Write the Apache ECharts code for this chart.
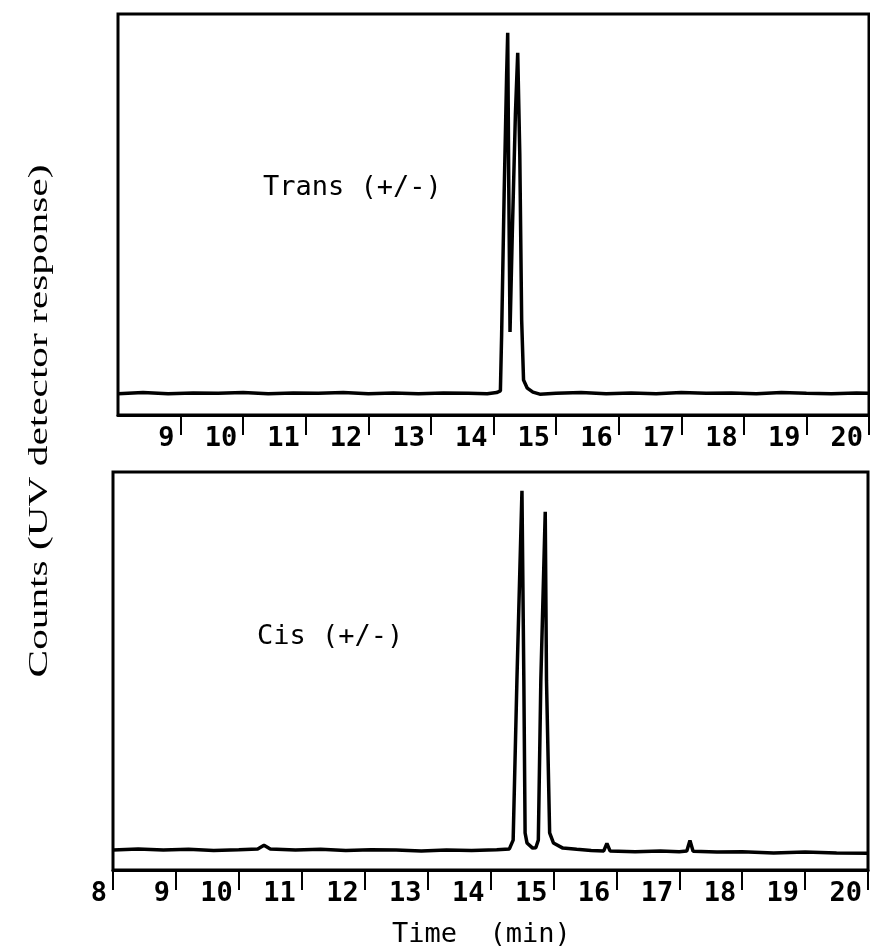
<!DOCTYPE html>
<html><head><meta charset="utf-8">
<script src="https://cdn.jsdelivr.net/npm/echarts@6/dist/echarts.min.js"></script>
<style>html,body{margin:0;padding:0;background:#fff}#c{width:870px;height:952px}</style>
</head><body><div id="c"></div>
<script>
// ---- data ----
const timeMin = 8, timeMax = 20, timeStep = 1;
const transTime = [8.00,8.40,8.80,9.20,9.60,10.00,10.40,10.80,11.20,11.60,12.00,12.40,12.80,13.20,13.60,13.90,14.05,14.11,14.13,14.17,14.21,14.227,14.245,14.264,14.30,14.35,14.387,14.42,14.45,14.48,14.54,14.63,14.74,15.0,15.4,15.8,16.2,16.6,17.0,17.4,17.8,18.2,18.6,19.0,19.4,19.8,20.0];
const transCounts = [5.3,5.6,5.3,5.5,5.4,5.6,5.3,5.5,5.4,5.6,5.3,5.5,5.3,5.5,5.4,5.3,5.6,6.0,20,55,85,95.3,55,20.7,45,75,90.3,65,23.7,8.7,6.7,5.7,5.2,5.4,5.6,5.3,5.5,5.3,5.6,5.4,5.5,5.3,5.6,5.4,5.3,5.5,5.4];
const cisTime = [8.00,8.4,8.8,9.2,9.6,10.0,10.3,10.4,10.5,10.9,11.3,11.7,12.1,12.5,12.9,13.3,13.7,14.1,14.30,14.36,14.42,14.50,14.53,14.55,14.58,14.67,14.72,14.76,14.80,14.87,14.89,14.94,15.00,15.15,15.37,15.6,15.80,15.85,15.90,16.3,16.7,17.0,17.12,17.17,17.22,17.6,18.0,18.5,19.0,19.5,20.0];
const cisCounts = [5.0,5.3,5.0,5.2,4.9,5.1,5.3,6.2,5.3,5.0,5.2,4.9,5.1,5.0,4.8,5.0,4.9,5.1,5.3,7.5,47.7,95.3,47.7,9.3,6.8,5.5,5.6,7.5,47.7,90.0,47.7,9.3,6.8,5.5,5.2,4.9,4.8,6.7,4.8,4.6,4.8,4.6,4.8,7.4,4.7,4.5,4.6,4.3,4.5,4.3,4.2];
const yAxisTitle = 'Counts (UV detector response)';
const xAxisTitle = 'Time  (min)';
const transLabel = 'Trans (+/-)';
const cisLabel = 'Cis (+/-)';

// ---- chart ----
const zip = (a, b) => a.map((v, i) => [v, b[i]]);
const mono = 'DejaVu Sans Mono';
function xAxisCfg(gi, showMin) {
  return {
    type: 'value', gridIndex: gi, min: timeMin, max: timeMax, interval: timeStep,
    axisLine: {show: true, lineStyle: {color: '#000', width: 3}},
    axisTick: {show: true, inside: false, length: 20, lineStyle: {color: '#000', width: 2}},
    axisLabel: {showMinLabel: showMin, align: 'right', padding: [0, 6, 0, 0], margin: 10,
      color: '#000', fontFamily: mono, fontWeight: 'bold', fontSize: 27},
    splitLine: {show: false}
  };
}
const chart = echarts.init(document.getElementById('c'), null, {renderer: 'canvas'});
chart.setOption({
  backgroundColor: '#fff',
  animation: false,
  grid: [
    {left: 118, top: 14, width: 751, height: 401, show: true, borderColor: '#000', borderWidth: 3, backgroundColor: 'transparent'},
    {left: 113, top: 472, width: 755, height: 398, show: true, borderColor: '#000', borderWidth: 3, backgroundColor: 'transparent'}
  ],
  xAxis: [xAxisCfg(0, false), xAxisCfg(1, true)],
  yAxis: [
    {type: 'value', gridIndex: 0, min: 0, max: 100, show: false},
    {type: 'value', gridIndex: 1, min: 0, max: 100, show: false}
  ],
  series: [
    {type: 'line', xAxisIndex: 0, yAxisIndex: 0, data: zip(transTime, transCounts), showSymbol: false,
      lineStyle: {color: '#000', width: 3.5}, z: 3},
    {type: 'line', xAxisIndex: 1, yAxisIndex: 1, data: zip(cisTime, cisCounts), showSymbol: false,
      lineStyle: {color: '#000', width: 3.5}, z: 3}
  ],
  graphic: [
    {type: 'text', x: 263, y: 188, style: {text: transLabel, font: '27px "DejaVu Sans Mono"', fill: '#000', verticalAlign: 'middle', align: 'left'}},
    {type: 'text', x: 257, y: 637, style: {text: cisLabel, font: '27px "DejaVu Sans Mono"', fill: '#000', verticalAlign: 'middle', align: 'left'}},
    {type: 'text', x: 392, y: 935, style: {text: xAxisTitle, font: '27px "DejaVu Sans Mono"', fill: '#000', verticalAlign: 'middle', align: 'left'}},
    {type: 'text', x: 40, y: 421, rotation: Math.PI / 2, scaleX: 1.53,
      style: {text: yAxisTitle, font: '27px "Liberation Serif"', fill: '#000', verticalAlign: 'middle', align: 'center'}}
  ]
});
</script></body></html>
